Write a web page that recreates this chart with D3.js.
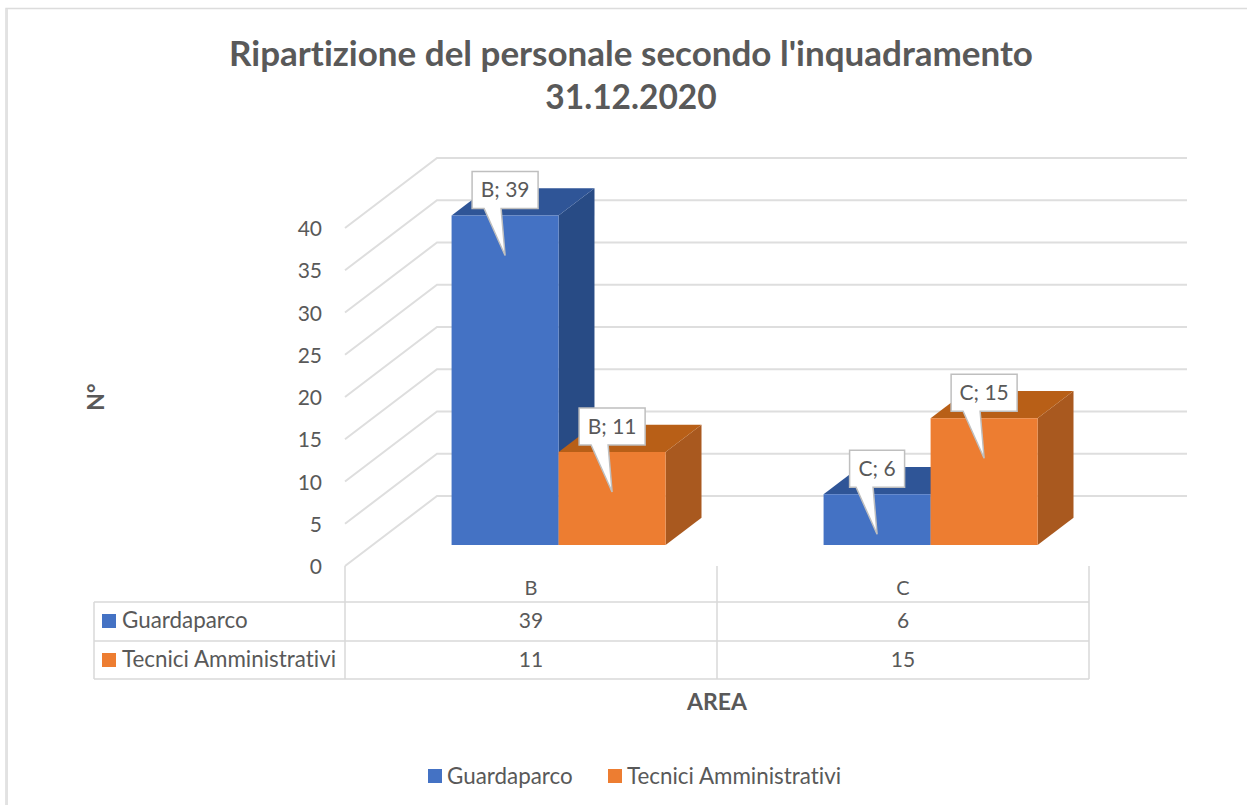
<!DOCTYPE html>
<html>
<head>
<meta charset="utf-8">
<script src="https://cdn.jsdelivr.net/npm/d3@7"></script>
<style>
  html, body { margin: 0; padding: 0; background: #fff; }
  svg { display: block; }
  text { font-family: Lato, "Open Sans", sans-serif; fill: #595959; font-variant-ligatures: none; }
</style>
</head>
<body>
<div class="chart"></div>
<script>
const width = 1247;
const height = 805;

const titleLines = ["Ripartizione del personale secondo l'inquadramento", "31.12.2020"];
const categories = ['B', 'C'];
const seriesNames = ['Guardaparco', 'Tecnici Amministrativi'];
const guardaparco = [39, 6];
const tecnici = [11, 15];
const yTicks = [0, 5, 10, 15, 20, 25, 30, 35, 40];
const seriesValues = [guardaparco, tecnici];

const faceColors = [
    { front: '#4472c4', top: '#2f5597', side: '#284b85' },
    { front: '#ed7d31', top: '#b85f17', side: '#a9591f' }
];
const labelSize = 22.4;
const numberSize = 21;

const svg = d3.select('.chart').append('svg')
    .attr('width', width)
    .attr('height', height)
    .attr('viewBox', `0 0 ${width} ${height}`);

// chart frame
svg.append('path')
    .attr('d', 'M1247,8.5H6V805')
    .attr('fill', 'none')
    .attr('stroke', '#dcdcdc')
    .attr('stroke-width', 1.5);
svg.append('path')
    .attr('d', 'M7,9V805')
    .attr('fill', 'none')
    .attr('stroke', '#e2e2e2')
    .attr('stroke-width', 2);

/*      Title       */
svg.append('g').selectAll('text')
    .data(titleLines)
    .enter()
    .append('text')
    .attr('x', 631)
    .attr('y', (d, i) => 66 + i * 43)
    .attr('text-anchor', 'middle')
    .attr('font-size', (d, i) => i === 0 ? 35 : 33.5)
    .attr('font-weight', 700)
    .text(d => d);

/*      Scales: front plane of the 3d box, depth goes up and to the right     */
const xScale = d3.scaleBand().domain(categories).range([345, 1089]);
const xInner = d3.scaleBand().domain(seriesNames)
    .range([0, xScale.bandwidth()])
    .paddingInner(0)
    .paddingOuter(0.738);
const yScale = d3.scaleLinear().domain([0, 40]).range([566, 228]);
const depthX = d3.scaleLinear().domain([0, 1]).range([0, 92]);
const depthY = d3.scaleLinear().domain([0, 1]).range([0, -70]);
const wallRight = 1187;
const barDepth = [0.3, 0.69];

function pt(x, value, depth) {
    return [x + depthX(depth), yScale(value) + depthY(depth)];
}
const line = d3.line();

/*      Walls       */
const walls = svg.append('g').attr('fill', 'none').attr('stroke', '#dedede').attr('stroke-width', 2);
yTicks.forEach(t => {
    walls.append('path').attr('d', line([pt(345, t, 0), pt(345, t, 1), [wallRight, pt(345, t, 1)[1]]]));
});

/*      Y axis labels       */
svg.append('g').selectAll('text')
    .data(yTicks)
    .enter()
    .append('text')
    .attr('x', 322)
    .attr('y', d => yScale(d) + 8)
    .attr('text-anchor', 'end')
    .attr('font-size', numberSize)
    .text(d => d);

/*      Bars        */
const bars = [];
seriesNames.forEach((s, si) => {
    categories.forEach((c, ci) => {
        bars.push({ s, si, c, value: seriesValues[si][ci], x: xScale(c) + xInner(s) });
    });
});
const bw = xInner.bandwidth();
const barGroups = svg.append('g').selectAll('g')
    .data(bars)
    .enter()
    .append('g');
barGroups.append('path')
    .attr('fill', d => faceColors[d.si].side)
    .attr('d', d => line([
        pt(d.x + bw, 0, barDepth[0]), pt(d.x + bw, 0, barDepth[1]),
        pt(d.x + bw, d.value, barDepth[1]), pt(d.x + bw, d.value, barDepth[0])
    ]) + 'Z');
barGroups.append('path')
    .attr('fill', d => faceColors[d.si].top)
    .attr('d', d => line([
        pt(d.x, d.value, barDepth[0]), pt(d.x, d.value, barDepth[1]),
        pt(d.x + bw, d.value, barDepth[1]), pt(d.x + bw, d.value, barDepth[0])
    ]) + 'Z');
barGroups.append('path')
    .attr('fill', d => faceColors[d.si].front)
    .attr('d', d => line([
        pt(d.x, 0, barDepth[0]), pt(d.x + bw, 0, barDepth[0]),
        pt(d.x + bw, d.value, barDepth[0]), pt(d.x, d.value, barDepth[0])
    ]) + 'Z');

/*      Data table      */
const rowY = [566, 602, 641, 679];
const tableLeft = 94;
const grid = svg.append('g').attr('fill', 'none').attr('stroke', '#d9d9d9').attr('stroke-width', 1.5);
rowY.slice(1).forEach(y => {
    grid.append('path').attr('d', line([[tableLeft, y], [1089, y]]));
});
grid.append('path').attr('d', line([[tableLeft, rowY[1]], [tableLeft, rowY[3]]]));
[345, 717, 1089].forEach(x => {
    grid.append('path').attr('d', line([[x, rowY[0]], [x, rowY[3]]]));
});

const catCentre = c => xScale(c) + xScale.bandwidth() / 2;
svg.append('g').selectAll('text')
    .data(categories)
    .enter()
    .append('text')
    .attr('x', catCentre)
    .attr('y', 595)
    .attr('text-anchor', 'middle')
    .attr('font-size', 20)
    .text(d => d);

seriesNames.forEach((s, si) => {
    const y0 = rowY[si + 1];
    svg.append('rect')
        .attr('x', 102).attr('y', y0 + 12)
        .attr('width', 14).attr('height', 14)
        .attr('fill', faceColors[si].front);
    svg.append('text')
        .attr('x', 122).attr('y', y0 + 26)
        .attr('font-size', labelSize)
        .text(s);
    categories.forEach((c, ci) => {
        svg.append('text')
            .attr('x', catCentre(c)).attr('y', y0 + 26)
            .attr('text-anchor', 'middle')
            .attr('font-size', numberSize)
            .text(seriesValues[si][ci]);
    });
});

/*      Axis titles     */
svg.append('text')
    .attr('transform', 'translate(104,397) rotate(-90)')
    .attr('text-anchor', 'middle')
    .attr('font-size', 23)
    .attr('font-weight', 700)
    .text('N°');
svg.append('text')
    .attr('x', 717).attr('y', 710)
    .attr('text-anchor', 'middle')
    .attr('font-size', 23)
    .attr('font-weight', 700)
    .text('AREA');

/*      Legend      */
const legendX = [428, 608];
seriesNames.forEach((s, si) => {
    svg.append('rect')
        .attr('x', legendX[si]).attr('y', 769)
        .attr('width', 14).attr('height', 14)
        .attr('fill', faceColors[si].front);
    svg.append('text')
        .attr('x', legendX[si] + 19).attr('y', 784)
        .attr('font-size', labelSize)
        .text(s);
});

/*      Data callouts   */
const callouts = svg.append('g').selectAll('g')
    .data(bars)
    .enter()
    .append('g')
    .attr('transform', d => {
        const p = pt(d.x + bw / 2, d.value, barDepth[0]);
        return `translate(${p[0]},${p[1]})`;
    });
callouts.append('path')
    .attr('fill', '#fff')
    .attr('stroke', '#bfbfbf')
    .attr('stroke-width', 1.5)
    .attr('d', d => {
        const w = d.value >= 10 ? 66 : 55;
        return line([
            [-w / 2, -44], [w / 2, -44], [w / 2, -7],
            [-4, -7], [0, 40], [-21, -7], [-w / 2, -7]
        ]) + 'Z';
    });
callouts.append('text')
    .attr('y', -18)
    .attr('text-anchor', 'middle')
    .attr('font-size', numberSize)
    .text(d => `${d.c}; ${d.value}`);
</script>
</body>
</html>
